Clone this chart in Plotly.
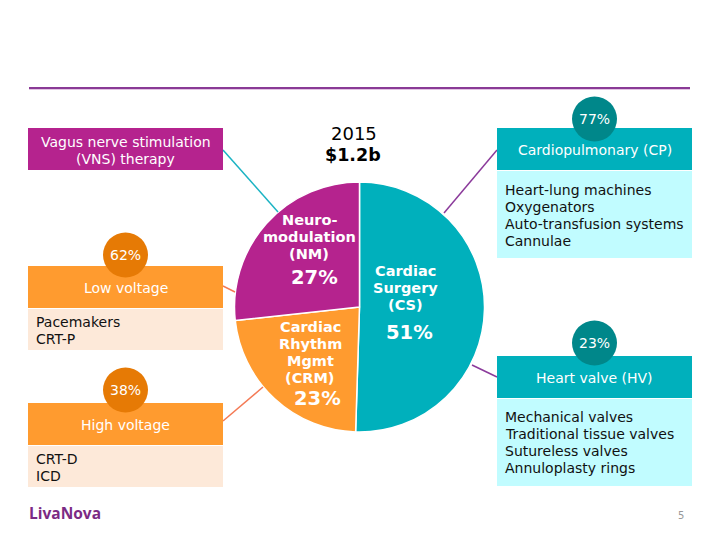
import plotly.graph_objects as go

# ---- data ----
segments = ["Cardiac Surgery (CS)", "Cardiac Rhythm Mgmt (CRM)", "Neuromodulation (NM)"]
segment_share = [51, 23, 27]
segment_colors = ["#00B0BC", "#FF9B2F", "#B5238E"]
segment_labels = [["Cardiac", "Surgery", "(CS)"], ["Cardiac", "Rhythm", "Mgmt", "(CRM)"],
                  ["Neuro-", "modulation", "(NM)"]]
segment_pct = ["51%", "23%", "27%"]

year = "2015"
total = "$1.2b"

sub_titles = [["Vagus nerve stimulation", "(VNS) therapy"], ["Low voltage"], ["High voltage"],
              ["Cardiopulmonary (CP)"], ["Heart valve (HV)"]]
sub_share = [None, "62%", "38%", "77%", "23%"]
sub_items = [None, ["Pacemakers", "CRT-P"], ["CRT-D", "ICD"],
             ["Heart-lung machines", "Oxygenators", "Auto-transfusion systems", "Cannulae"],
             ["Mechanical valves", "Traditional tissue valves", "Sutureless valves", "Annuloplasty rings"]]

W, H = 720, 540
OFF = 8  # page body margin of the viewer
FONT = "DejaVu Sans"

fig = go.Figure()

# pie
cx, cy, r = 359.5, 307, 125
fig.add_trace(go.Pie(
    values=segment_share, labels=segments, sort=False, direction="clockwise", rotation=0,
    marker=dict(colors=segment_colors, line=dict(color="white", width=1.5)),
    textinfo="none", hoverinfo="label+percent", showlegend=False,
    domain=dict(x=[(cx - OFF - r) / W, (cx - OFF + r) / W],
                y=[1 - (cy - OFF + r) / H, 1 - (cy - OFF - r) / H]),
))

shapes = []
ann = []

def rect(x0, y0, x1, y1, color):
    shapes.append(dict(type="rect", xref="x", yref="y", x0=x0, y0=y0, x1=x1, y1=y1,
                       fillcolor=color, line=dict(width=0), layer="above"))

def line(x0, y0, x1, y1, color, width=1.5):
    shapes.append(dict(type="line", xref="x", yref="y", x0=x0, y0=y0, x1=x1, y1=y1,
                       line=dict(color=color, width=width), layer="above"))

def circle(x, y, rr, color):
    shapes.append(dict(type="circle", xref="x", yref="y", x0=x - rr, y0=y - rr, x1=x + rr, y1=y + rr,
                       fillcolor=color, line=dict(width=0), layer="above"))

def text(x, y, s, size=14, color="white", bold=False, xanchor="center", family=FONT):
    if bold:
        s = "<b>" + s + "</b>"
    ann.append(dict(x=x, y=y, xref="x", yref="y", text=s, showarrow=False, xanchor=xanchor,
                    yanchor="middle", font=dict(family=family, size=size, color=color)))

def lines(x, y0, items, size=14, color="white", bold=False, xanchor="center", step=17):
    for k, s in enumerate(items):
        text(x, y0 + step * k, s, size, color, bold, xanchor)

# top rule
line(29, 89, 690, 89, "#C58CC8", 1)
line(29, 88, 690, 88, "#8A3A96", 2)

# pie center texts
lines(309, 220, segment_labels[2], 14.5, bold=True)
text(314, 277, segment_pct[2], 19.5, bold=True)
lines(405, 271, segment_labels[0], 14.5, bold=True)
text(409, 332, segment_pct[0], 19.5, bold=True)
lines(310, 327, segment_labels[1], 14.5, bold=True)
text(317, 398, segment_pct[1], 19.5, bold=True)

# year / total
text(354, 133, year, 18, color="black")
text(353, 155, total, 17.5, color="black", bold=True)

# connectors
line(223, 150, 278, 212, "#1BB3C3")
line(223, 286, 235, 292, "#F47A55")
line(223, 421, 263, 387, "#F47A55")
line(497, 150, 444, 213, "#8B3A9B")
line(497, 377, 472, 365, "#8B3A9B")

# boxes
LX0, LX1 = 28, 223
RX0, RX1 = 497, 692
# VNS
rect(LX0, 128, LX1, 170, "#B5238E")
lines((LX0 + LX1) / 2, 142, sub_titles[0], 14)

def block(x0, x1, hy0, hy1, by1, cy_, item_y, hcol, bcol, ccol, ti):
    rect(x0, hy0, x1, hy1, hcol)
    rect(x0, hy1 + 1, x1, by1, bcol)
    xc = (x0 + x1) / 2
    circle(xc, cy_, 22.5, ccol)
    text(xc, cy_, sub_share[ti], 14)
    lines(xc, (hy0 + hy1) / 2 + 1, sub_titles[ti], 14)
    lines(x0 + 6, item_y, sub_items[ti], 14, color="#111111", xanchor="left")

block(LX0, LX1, 266, 308, 350, 255, 322, "#FF9B2F", "#FDE9D9", "#E67A05", 1)
block(LX0, LX1, 403, 445, 487, 390, 459, "#FF9B2F", "#FDE9D9", "#E67A05", 2)
block(RX0, RX1, 128, 170, 258, 119, 190, "#00B0BC", "#C1FCFF", "#00878A", 3)
block(RX0, RX1, 356, 398, 486, 343, 417, "#00B0BC", "#C1FCFF", "#00878A", 4)

# footer
text(27, 513, "LivaNova", 15.5, color="#7B2A84", bold=True, xanchor="left", family="Open Sans")
text(681, 515, "5", 10, color="#999999")

fig.update_layout(
    width=W, height=H, margin=dict(l=0, r=0, t=0, b=0),
    paper_bgcolor="white", plot_bgcolor="rgba(0,0,0,0)",
    xaxis=dict(range=[OFF, W + OFF], visible=False, fixedrange=True),
    yaxis=dict(range=[H + OFF, OFF], visible=False, fixedrange=True),
    shapes=shapes, annotations=ann, showlegend=False,
)

fig.write_html("out.html")
